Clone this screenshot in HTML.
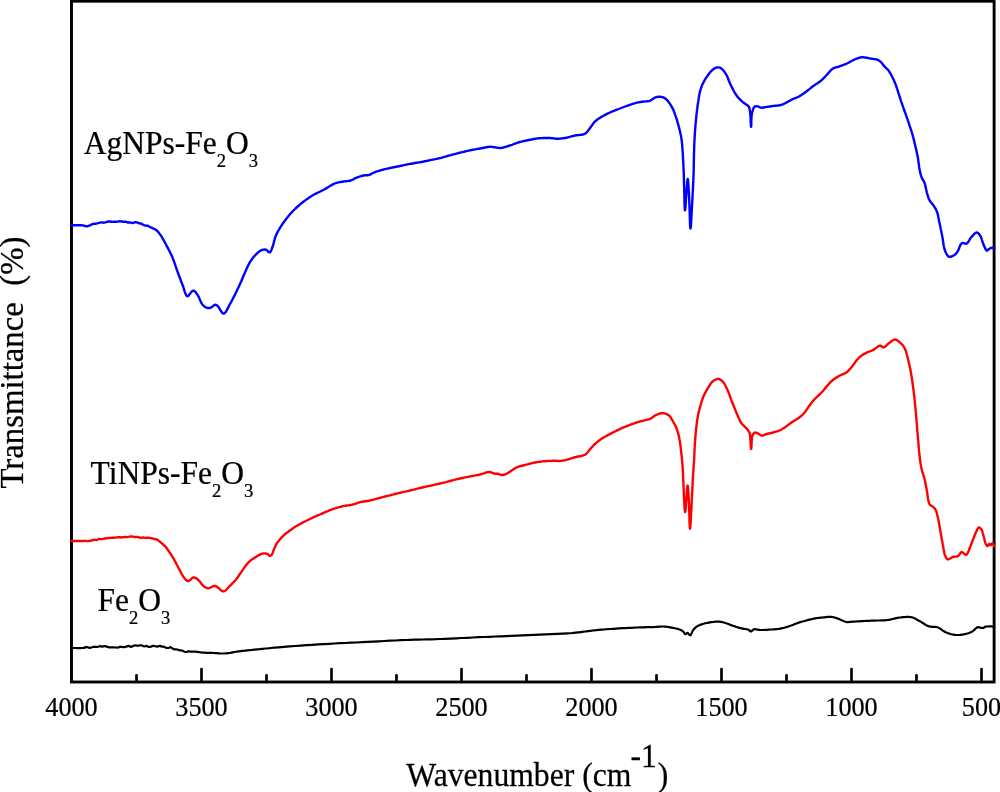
<!DOCTYPE html>
<html><head><meta charset="utf-8"><style>
html,body{margin:0;padding:0;background:#fff;}
svg{display:block;}
text{font-family:"Liberation Serif",serif;fill:#000;stroke:#000;stroke-width:0.25px;}
svg{will-change:transform;}
</style></head><body>
<svg width="1000" height="792" viewBox="0 0 1000 792">
<rect x="0" y="0" width="1000" height="792" fill="#fff"/>

<g stroke="#000" stroke-width="2.9" fill="none">
<rect x="71.5" y="1.2" width="922.6" height="680.8"/>
</g>
<g stroke="#000" stroke-width="2.7" fill="none" stroke-linecap="round">
<line x1="136.5" y1="681" x2="136.5" y2="675.3"/>
<line x1="201.5" y1="681" x2="201.5" y2="669.1"/>
<line x1="266.5" y1="681" x2="266.5" y2="675.3"/>
<line x1="331.5" y1="681" x2="331.5" y2="669.1"/>
<line x1="396.5" y1="681" x2="396.5" y2="675.3"/>
<line x1="461.5" y1="681" x2="461.5" y2="669.1"/>
<line x1="526.5" y1="681" x2="526.5" y2="675.3"/>
<line x1="591.5" y1="681" x2="591.5" y2="669.1"/>
<line x1="656.5" y1="681" x2="656.5" y2="675.3"/>
<line x1="721.5" y1="681" x2="721.5" y2="669.1"/>
<line x1="786.5" y1="681" x2="786.5" y2="675.3"/>
<line x1="851.5" y1="681" x2="851.5" y2="669.1"/>
<line x1="916.5" y1="681" x2="916.5" y2="675.3"/>
<line x1="981.5" y1="681" x2="981.5" y2="669.1"/>
</g>
<g fill="none" stroke-linejoin="round" stroke-linecap="round">
<path d="M71.5,225.2 L72.9,225.2 L74.3,225.2 L75.7,225.2 L77.2,225.3 L78.6,225.3 L79.9,225.3 L81.2,225.3 L82.4,225.4 L83.2,225.5 L83.9,225.6 L84.7,226.0 L85.4,226.1 L86.0,226.2 L86.7,226.2 L87.3,226.2 L88.0,226.1 L88.6,225.9 L89.2,225.7 L89.8,225.4 L90.4,225.1 L90.9,224.8 L91.5,224.5 L92.2,224.3 L92.8,224.0 L93.6,223.9 L94.5,223.8 L95.4,223.7 L96.3,223.6 L97.2,223.4 L98.1,223.1 L99.1,222.8 L100.0,222.6 L101.1,222.4 L102.1,222.4 L103.2,222.7 L104.3,222.6 L105.4,222.3 L106.5,222.0 L107.7,221.7 L108.8,221.5 L110.0,221.5 L111.2,221.7 L112.5,221.9 L113.8,221.8 L115.0,221.8 L116.2,221.7 L117.4,221.6 L118.4,221.5 L119.1,221.3 L119.7,221.3 L120.3,221.4 L120.9,221.4 L121.5,221.5 L122.0,221.5 L122.6,221.6 L123.2,221.7 L123.8,221.8 L124.4,221.7 L125.0,221.7 L125.6,221.7 L126.2,221.9 L126.8,222.1 L127.4,222.3 L128.0,222.6 L128.7,222.5 L129.4,222.5 L130.1,222.5 L130.9,222.7 L131.6,222.9 L132.3,223.1 L133.0,223.0 L133.6,222.7 L134.0,222.5 L134.5,222.3 L134.9,222.2 L135.3,222.2 L135.6,222.2 L136.0,222.2 L136.4,222.3 L136.8,222.4 L137.2,222.5 L137.6,222.6 L138.0,222.8 L138.4,223.0 L138.7,223.2 L139.1,223.3 L139.6,223.4 L140.0,223.5 L140.6,223.5 L141.3,223.6 L141.9,224.0 L142.6,224.4 L143.3,224.8 L144.0,225.1 L144.7,225.3 L145.4,225.5 L146.1,225.6 L146.7,225.6 L147.4,225.7 L148.1,225.8 L148.7,226.3 L149.4,226.7 L150.0,227.0 L150.7,227.3 L151.4,227.6 L152.1,227.9 L152.8,228.2 L153.5,228.6 L154.2,228.9 L154.9,229.3 L155.5,229.6 L156.1,230.0 L156.5,230.3 L156.9,230.6 L157.2,231.0 L157.6,231.3 L157.9,231.7 L158.2,232.0 L158.5,232.4 L158.8,232.8 L159.1,233.2 L159.5,233.6 L159.8,234.1 L160.1,234.5 L160.5,234.9 L160.8,235.4 L161.1,235.9 L161.5,236.5 L162.1,237.5 L162.7,238.6 L163.4,239.7 L164.1,241.0 L164.8,242.2 L165.5,243.5 L166.1,244.8 L166.8,246.1 L167.5,247.4 L168.2,248.7 L168.9,250.0 L169.6,251.3 L170.2,252.6 L170.9,254.0 L171.6,255.4 L172.2,256.8 L172.9,258.6 L173.6,260.4 L174.3,262.3 L175.0,264.2 L175.6,266.2 L176.3,268.1 L176.9,270.0 L177.6,271.9 L178.3,273.7 L178.9,275.5 L179.6,277.3 L180.3,279.0 L180.9,280.8 L181.6,282.5 L182.2,284.2 L182.9,285.8 L183.4,287.3 L183.9,288.9 L184.4,290.6 L184.9,292.2 L185.5,293.7 L186.0,294.9 L186.6,295.8 L187.3,296.2 L188.0,296.1 L188.7,295.5 L189.4,294.6 L190.2,293.5 L191.0,292.4 L191.8,291.5 L192.6,290.8 L193.3,290.6 L193.9,290.7 L194.5,291.1 L195.1,291.6 L195.7,292.3 L196.3,293.1 L196.8,293.9 L197.4,294.7 L197.9,295.5 L198.5,296.5 L199.1,297.6 L199.6,298.9 L200.1,300.1 L200.6,301.4 L201.2,302.5 L201.8,303.6 L202.4,304.5 L202.9,305.1 L203.5,305.7 L204.0,306.2 L204.6,306.6 L205.2,307.1 L205.8,307.4 L206.4,307.7 L207.0,307.9 L207.5,308.0 L207.9,308.1 L208.4,308.1 L208.9,308.0 L209.4,308.0 L209.8,307.9 L210.3,307.7 L210.8,307.6 L211.4,307.3 L212.0,307.0 L212.5,306.5 L213.1,306.0 L213.7,305.6 L214.3,305.2 L214.8,304.9 L215.3,304.8 L215.6,304.8 L215.9,304.9 L216.2,305.0 L216.5,305.1 L216.7,305.3 L217.0,305.5 L217.3,305.7 L217.6,306.0 L218.3,306.7 L219.0,307.8 L219.7,309.0 L220.5,310.3 L221.3,311.6 L222.1,312.6 L222.8,313.4 L223.6,313.6 L224.4,313.3 L225.2,312.5 L226.1,311.4 L226.9,310.0 L227.7,308.4 L228.5,306.9 L229.3,305.3 L230.0,304.0 L230.7,302.8 L231.3,301.7 L232.0,300.5 L232.6,299.3 L233.2,298.1 L233.8,296.9 L234.4,295.7 L235.0,294.5 L235.6,293.2 L236.3,291.9 L236.9,290.6 L237.5,289.3 L238.1,288.0 L238.8,286.7 L239.4,285.3 L240.0,284.0 L240.6,282.6 L241.3,281.2 L241.9,279.7 L242.5,278.2 L243.1,276.8 L243.7,275.3 L244.4,273.9 L245.0,272.5 L245.6,271.1 L246.2,269.8 L246.8,268.4 L247.4,267.0 L248.0,265.7 L248.7,264.4 L249.3,263.2 L250.0,262.0 L250.6,261.1 L251.2,260.2 L251.8,259.4 L252.4,258.5 L253.0,257.8 L253.6,257.0 L254.3,256.2 L255.0,255.5 L255.7,254.7 L256.5,254.0 L257.3,253.2 L258.1,252.4 L259.0,251.7 L259.8,251.1 L260.6,250.6 L261.4,250.2 L262.0,250.0 L262.6,249.8 L263.1,249.7 L263.7,249.6 L264.3,249.5 L264.8,249.5 L265.4,249.6 L265.9,249.7 L266.4,249.9 L266.9,250.3 L267.4,250.8 L267.9,251.3 L268.4,251.8 L268.9,252.1 L269.3,252.4 L269.7,252.4 L270.2,252.1 L270.6,251.7 L271.0,251.0 L271.3,250.2 L271.7,249.2 L272.0,248.3 L272.4,247.3 L272.7,246.4 L273.1,245.2 L273.5,243.9 L273.8,242.6 L274.2,241.2 L274.5,239.8 L274.9,238.4 L275.3,237.1 L275.8,235.8 L276.3,234.7 L276.8,233.6 L277.3,232.6 L277.8,231.6 L278.4,230.5 L279.0,229.5 L279.6,228.5 L280.3,227.4 L281.1,226.1 L282.0,224.8 L282.9,223.4 L283.9,222.0 L284.9,220.7 L285.9,219.3 L286.9,218.0 L287.9,216.8 L288.8,215.7 L289.7,214.6 L290.7,213.5 L291.6,212.5 L292.5,211.5 L293.5,210.5 L294.5,209.5 L295.5,208.5 L296.6,207.5 L297.7,206.5 L298.8,205.5 L299.9,204.6 L301.0,203.6 L302.2,202.7 L303.3,201.8 L304.5,200.9 L305.6,200.1 L306.7,199.3 L307.9,198.5 L309.0,197.7 L310.1,196.9 L311.3,196.2 L312.4,195.5 L313.6,194.8 L314.7,194.2 L315.8,193.6 L316.9,193.1 L318.1,192.5 L319.2,192.0 L320.3,191.5 L321.5,190.9 L322.7,190.3 L324.2,189.5 L325.7,188.6 L327.2,187.7 L328.8,186.7 L330.4,185.8 L331.9,184.9 L333.4,184.1 L334.8,183.5 L335.8,183.1 L336.8,182.8 L337.7,182.6 L338.7,182.4 L339.6,182.2 L340.5,182.0 L341.4,181.9 L342.4,181.7 L343.4,181.5 L344.5,181.4 L345.6,181.3 L346.7,181.2 L347.8,181.1 L348.9,180.9 L349.9,180.7 L350.8,180.5 L351.5,180.2 L352.2,179.9 L352.8,179.6 L353.4,179.3 L354.0,178.9 L354.7,178.5 L355.3,178.2 L356.0,177.9 L356.9,177.6 L357.8,177.2 L358.8,176.9 L359.8,176.5 L360.8,176.2 L361.7,175.9 L362.7,175.7 L363.6,175.5 L364.3,175.4 L365.0,175.3 L365.7,175.3 L366.4,175.3 L367.1,175.3 L367.7,175.2 L368.4,175.1 L369.0,175.0 L369.5,174.8 L370.0,174.6 L370.5,174.4 L371.0,174.1 L371.4,173.8 L371.9,173.5 L372.4,173.3 L373.0,173.0 L373.8,172.7 L374.6,172.4 L375.4,172.0 L376.3,171.7 L377.2,171.4 L378.1,171.1 L379.0,170.8 L380.0,170.5 L381.2,170.2 L382.4,169.8 L383.6,169.5 L384.9,169.2 L386.2,168.9 L387.5,168.6 L388.7,168.3 L390.0,168.0 L391.2,167.7 L392.5,167.5 L393.7,167.2 L395.0,167.0 L396.2,166.7 L397.5,166.5 L398.8,166.3 L400.0,166.0 L401.3,165.7 L402.5,165.5 L403.7,165.2 L405.0,164.9 L406.2,164.7 L407.5,164.4 L408.7,164.1 L410.0,163.9 L411.2,163.7 L412.5,163.5 L413.7,163.2 L415.0,163.0 L416.3,162.8 L417.5,162.6 L418.8,162.4 L420.0,162.2 L421.3,162.0 L422.5,161.7 L423.8,161.5 L425.0,161.2 L426.3,161.0 L427.5,160.7 L428.8,160.5 L430.0,160.2 L431.3,159.9 L432.5,159.7 L433.8,159.4 L435.0,159.2 L436.3,158.9 L437.5,158.7 L438.8,158.4 L440.0,158.1 L441.3,157.8 L442.5,157.4 L443.8,157.1 L445.0,156.7 L446.3,156.4 L447.5,156.0 L448.7,155.6 L450.0,155.3 L451.2,155.0 L452.5,154.6 L453.7,154.3 L455.0,154.0 L456.2,153.7 L457.5,153.3 L458.7,153.0 L460.0,152.7 L461.2,152.4 L462.5,152.1 L463.7,151.8 L465.0,151.5 L466.2,151.1 L467.5,150.9 L468.7,150.6 L470.0,150.3 L471.2,150.0 L472.5,149.8 L473.7,149.6 L475.0,149.4 L476.2,149.1 L477.5,148.9 L478.7,148.7 L480.0,148.5 L481.3,148.3 L482.6,148.0 L483.9,147.7 L485.2,147.5 L486.4,147.2 L487.7,147.0 L488.9,146.9 L490.0,146.8 L490.8,146.8 L491.6,146.9 L492.4,146.9 L493.1,147.1 L493.9,147.2 L494.6,147.3 L495.3,147.4 L496.0,147.5 L496.7,147.6 L497.3,147.7 L497.9,147.8 L498.6,147.9 L499.2,147.9 L499.8,148.0 L500.4,148.0 L501.0,148.0 L501.5,147.9 L502.0,147.9 L502.5,147.8 L503.0,147.6 L503.4,147.5 L503.9,147.3 L504.5,147.2 L505.0,147.0 L505.8,146.8 L506.6,146.5 L507.5,146.3 L508.4,146.0 L509.3,145.7 L510.2,145.4 L511.1,145.1 L512.0,144.8 L512.8,144.5 L513.5,144.2 L514.3,143.9 L515.0,143.6 L515.7,143.3 L516.5,143.0 L517.2,142.8 L518.0,142.5 L518.8,142.3 L519.7,142.0 L520.5,141.8 L521.4,141.6 L522.3,141.4 L523.1,141.2 L524.1,141.0 L525.0,140.8 L526.2,140.5 L527.5,140.3 L528.8,140.0 L530.1,139.7 L531.4,139.5 L532.7,139.2 L533.9,139.0 L535.0,138.8 L535.7,138.7 L536.3,138.6 L536.9,138.5 L537.5,138.4 L538.1,138.4 L538.7,138.3 L539.3,138.3 L540.0,138.2 L541.1,138.1 L542.3,138.1 L543.6,138.0 L544.9,138.0 L546.2,138.0 L547.5,138.0 L548.8,138.0 L550.0,138.0 L550.9,138.1 L551.8,138.2 L552.7,138.3 L553.5,138.4 L554.4,138.5 L555.2,138.6 L556.1,138.7 L557.0,138.7 L558.0,138.7 L558.9,138.7 L559.9,138.6 L560.9,138.5 L561.9,138.4 L562.9,138.3 L564.0,138.2 L565.0,138.0 L566.2,137.8 L567.5,137.5 L568.7,137.1 L570.0,136.8 L571.3,136.4 L572.5,136.1 L573.8,135.8 L575.0,135.5 L576.1,135.3 L577.2,135.2 L578.2,135.1 L579.3,135.0 L580.3,134.9 L581.3,134.8 L582.2,134.7 L583.0,134.5 L583.5,134.4 L583.9,134.2 L584.3,134.1 L584.6,133.9 L585.0,133.7 L585.3,133.5 L585.6,133.3 L586.0,133.0 L586.5,132.5 L587.0,132.0 L587.5,131.4 L588.0,130.8 L588.5,130.1 L589.0,129.4 L589.5,128.7 L590.0,128.0 L590.6,127.2 L591.2,126.4 L591.8,125.5 L592.4,124.7 L593.0,123.8 L593.7,123.0 L594.3,122.2 L595.0,121.5 L595.6,121.0 L596.2,120.5 L596.7,120.0 L597.3,119.5 L597.9,119.1 L598.6,118.7 L599.3,118.3 L600.0,117.8 L601.1,117.1 L602.2,116.5 L603.5,115.8 L604.8,115.1 L606.1,114.4 L607.4,113.7 L608.7,113.1 L610.0,112.5 L611.2,111.9 L612.5,111.4 L613.7,110.9 L615.0,110.4 L616.2,109.9 L617.5,109.5 L618.7,109.0 L620.0,108.5 L621.3,108.0 L622.6,107.5 L623.9,107.0 L625.2,106.5 L626.5,106.0 L627.8,105.6 L628.9,105.2 L630.0,104.8 L630.6,104.6 L631.2,104.4 L631.8,104.2 L632.3,104.0 L632.8,103.8 L633.3,103.6 L633.9,103.5 L634.5,103.3 L635.3,103.1 L636.1,102.9 L636.9,102.7 L637.8,102.5 L638.7,102.3 L639.6,102.1 L640.5,102.0 L641.4,101.8 L642.4,101.7 L643.5,101.6 L644.6,101.5 L645.6,101.4 L646.7,101.4 L647.8,101.2 L648.8,101.1 L649.7,100.8 L650.4,100.5 L651.1,100.1 L651.8,99.7 L652.4,99.2 L653.1,98.7 L653.7,98.3 L654.3,97.9 L655.0,97.6 L655.6,97.4 L656.3,97.2 L657.0,97.0 L657.7,96.9 L658.3,96.8 L659.0,96.8 L659.7,96.8 L660.3,96.8 L660.9,96.9 L661.5,97.0 L662.1,97.1 L662.6,97.2 L663.2,97.4 L663.7,97.7 L664.3,97.9 L664.8,98.2 L665.3,98.6 L665.8,99.0 L666.3,99.4 L666.8,99.9 L667.3,100.4 L667.7,100.9 L668.2,101.4 L668.6,102.0 L669.1,102.7 L669.6,103.4 L670.1,104.1 L670.6,104.8 L671.1,105.6 L671.5,106.4 L672.0,107.2 L672.4,108.0 L672.8,108.9 L673.3,109.8 L673.7,110.7 L674.0,111.7 L674.4,112.6 L674.8,113.6 L675.1,114.6 L675.5,115.6 L675.9,116.8 L676.3,117.9 L676.7,119.1 L677.1,120.4 L677.4,121.6 L677.8,122.9 L678.1,124.2 L678.5,125.5 L678.9,127.1 L679.3,128.7 L679.7,130.3 L680.1,131.9 L680.5,133.7 L680.9,135.4 L681.2,137.2 L681.5,139.1 L681.8,141.6 L682.1,144.1 L682.3,146.8 L682.5,149.5 L682.7,152.3 L682.9,155.2 L683.0,158.1 L683.2,161.0 L683.4,164.4 L683.5,167.9 L683.7,171.5 L683.8,175.2 L683.9,178.8 L684.0,182.4 L684.1,185.9 L684.2,189.3 L684.3,192.4 L684.4,195.8 L684.4,199.2 L684.5,202.6 L684.6,205.6 L684.7,208.1 L684.8,209.7 L685.0,210.3 L685.3,209.0 L685.6,205.4 L685.9,200.4 L686.3,194.7 L686.7,188.9 L687.1,183.9 L687.4,180.3 L687.7,179.0 L687.9,179.4 L688.1,180.6 L688.2,182.5 L688.4,184.8 L688.6,187.3 L688.7,190.1 L688.9,192.8 L689.0,195.3 L689.2,199.3 L689.4,204.3 L689.6,209.8 L689.8,215.3 L689.9,220.4 L690.1,224.6 L690.3,227.4 L690.5,228.5 L690.7,227.8 L690.9,225.9 L691.1,223.0 L691.3,219.5 L691.5,215.5 L691.7,211.5 L691.9,207.6 L692.1,204.2 L692.3,201.0 L692.5,197.8 L692.6,194.6 L692.8,191.3 L693.0,188.0 L693.1,184.7 L693.3,181.2 L693.4,177.7 L693.6,173.2 L693.7,168.4 L693.8,163.5 L693.9,158.5 L694.0,153.5 L694.2,148.7 L694.3,144.1 L694.5,139.8 L694.7,136.8 L694.8,134.0 L695.0,131.3 L695.2,128.6 L695.4,126.1 L695.6,123.6 L695.9,121.1 L696.1,118.6 L696.3,116.5 L696.5,114.4 L696.8,112.3 L697.0,110.2 L697.3,108.2 L697.5,106.3 L697.8,104.3 L698.1,102.4 L698.4,100.7 L698.6,98.9 L698.9,97.2 L699.2,95.5 L699.5,93.9 L699.8,92.3 L700.2,90.8 L700.6,89.3 L701.0,88.2 L701.4,87.1 L701.8,86.0 L702.2,85.0 L702.7,84.0 L703.2,83.0 L703.6,82.1 L704.1,81.2 L704.5,80.5 L704.8,79.8 L705.2,79.2 L705.6,78.6 L706.0,78.0 L706.4,77.4 L706.8,76.8 L707.2,76.2 L707.7,75.5 L708.1,74.9 L708.6,74.2 L709.1,73.5 L709.6,72.9 L710.1,72.3 L710.6,71.7 L711.2,71.1 L711.8,70.6 L712.4,70.0 L713.0,69.5 L713.7,69.0 L714.3,68.5 L715.0,68.1 L715.7,67.8 L716.3,67.6 L716.8,67.5 L717.3,67.4 L717.8,67.4 L718.3,67.4 L718.8,67.4 L719.3,67.5 L719.8,67.7 L720.3,67.9 L721.0,68.3 L721.6,68.7 L722.3,69.3 L722.9,70.0 L723.6,70.7 L724.2,71.5 L724.8,72.3 L725.4,73.1 L726.1,74.3 L726.8,75.5 L727.4,76.9 L728.0,78.4 L728.5,79.8 L729.1,81.3 L729.7,82.8 L730.4,84.2 L731.1,85.6 L731.8,87.1 L732.6,88.6 L733.3,90.0 L734.1,91.5 L734.9,92.9 L735.7,94.2 L736.5,95.4 L737.2,96.3 L737.9,97.2 L738.7,98.1 L739.4,98.9 L740.2,99.7 L740.9,100.4 L741.7,101.2 L742.5,101.9 L743.3,102.5 L744.1,103.1 L745.0,103.6 L745.8,104.2 L746.6,104.7 L747.4,105.2 L748.1,105.8 L748.6,106.5 L749.0,107.1 L749.3,107.8 L749.5,108.5 L749.6,109.2 L749.8,110.0 L749.9,110.8 L750.0,111.6 L750.1,112.5 L750.3,114.2 L750.5,116.3 L750.6,118.6 L750.7,121.0 L750.8,123.2 L750.9,125.0 L751.0,126.2 L751.1,126.7 L751.2,126.2 L751.3,125.0 L751.3,123.2 L751.3,121.0 L751.4,118.6 L751.6,116.3 L751.8,114.2 L752.1,112.5 L752.4,111.5 L752.7,110.6 L753.0,109.6 L753.3,108.7 L753.7,107.9 L754.1,107.2 L754.6,106.7 L755.2,106.3 L755.9,106.1 L756.6,106.2 L757.5,106.4 L758.4,106.7 L759.3,107.0 L760.1,107.4 L761.0,107.6 L761.7,107.7 L762.2,107.7 L762.6,107.7 L763.0,107.6 L763.3,107.5 L763.7,107.5 L764.1,107.4 L764.5,107.3 L765.0,107.2 L765.8,107.1 L766.8,106.9 L767.7,106.8 L768.8,106.6 L769.8,106.5 L770.9,106.3 L772.0,106.1 L773.0,106.0 L774.0,105.9 L775.0,105.8 L776.1,105.7 L777.1,105.6 L778.1,105.5 L779.1,105.4 L780.1,105.2 L781.0,105.0 L781.8,104.7 L782.6,104.4 L783.3,104.1 L784.1,103.7 L784.8,103.4 L785.5,103.0 L786.3,102.6 L787.0,102.2 L787.8,101.8 L788.5,101.4 L789.2,101.0 L790.0,100.6 L790.7,100.2 L791.5,99.8 L792.2,99.4 L793.0,99.0 L793.7,98.7 L794.5,98.4 L795.2,98.1 L796.0,97.8 L796.7,97.5 L797.5,97.2 L798.2,96.9 L799.0,96.5 L800.0,95.9 L801.0,95.3 L802.0,94.6 L803.0,93.9 L804.0,93.2 L805.0,92.5 L806.0,91.7 L807.0,91.0 L807.9,90.3 L808.8,89.6 L809.7,88.9 L810.6,88.2 L811.4,87.5 L812.3,86.8 L813.1,86.1 L814.0,85.5 L814.8,85.0 L815.5,84.5 L816.3,84.0 L817.1,83.5 L817.8,83.0 L818.6,82.5 L819.3,82.0 L820.0,81.5 L820.7,81.0 L821.3,80.4 L821.9,79.9 L822.5,79.3 L823.1,78.7 L823.7,78.1 L824.3,77.5 L825.0,76.8 L825.9,75.8 L826.9,74.7 L827.9,73.6 L828.9,72.4 L829.9,71.3 L831.0,70.2 L832.0,69.2 L833.0,68.5 L833.7,68.1 L834.5,67.8 L835.2,67.5 L835.9,67.3 L836.7,67.1 L837.4,67.0 L838.2,66.8 L839.0,66.5 L839.9,66.2 L840.9,65.8 L841.9,65.5 L842.9,65.1 L844.0,64.7 L845.0,64.3 L846.0,63.9 L847.0,63.5 L848.0,63.0 L849.0,62.5 L850.0,61.9 L851.0,61.3 L852.0,60.8 L853.0,60.2 L854.0,59.7 L855.0,59.3 L855.9,58.9 L856.7,58.6 L857.6,58.3 L858.5,58.0 L859.3,57.8 L860.2,57.5 L861.1,57.4 L862.0,57.3 L863.1,57.3 L864.2,57.4 L865.3,57.5 L866.4,57.7 L867.6,57.9 L868.7,58.2 L869.8,58.4 L870.9,58.6 L871.8,58.7 L872.8,58.9 L873.8,59.0 L874.7,59.1 L875.6,59.3 L876.5,59.5 L877.3,59.7 L878.0,60.0 L878.5,60.3 L879.0,60.6 L879.5,60.9 L879.9,61.2 L880.3,61.6 L880.7,61.9 L881.1,62.3 L881.5,62.7 L881.9,63.1 L882.2,63.5 L882.5,63.9 L882.8,64.4 L883.2,64.8 L883.5,65.3 L883.8,65.7 L884.2,66.2 L884.7,66.7 L885.2,67.2 L885.8,67.7 L886.3,68.2 L886.9,68.8 L887.5,69.3 L888.1,69.9 L888.6,70.6 L889.3,71.6 L890.0,72.8 L890.7,74.0 L891.4,75.3 L892.1,76.7 L892.8,78.0 L893.4,79.2 L893.9,80.4 L894.3,81.3 L894.6,82.1 L895.0,82.9 L895.3,83.6 L895.6,84.4 L895.9,85.2 L896.2,86.1 L896.5,87.0 L897.0,88.4 L897.5,89.9 L898.0,91.6 L898.5,93.2 L899.1,94.9 L899.6,96.7 L900.2,98.4 L900.7,100.0 L901.2,101.6 L901.8,103.2 L902.3,104.7 L902.9,106.3 L903.4,107.9 L904.0,109.5 L904.5,111.0 L905.1,112.6 L905.7,114.2 L906.2,115.8 L906.8,117.4 L907.4,119.0 L907.9,120.6 L908.5,122.2 L909.0,123.8 L909.5,125.3 L909.9,126.6 L910.4,127.9 L910.8,129.2 L911.2,130.4 L911.6,131.7 L912.0,132.9 L912.3,134.1 L912.7,135.4 L913.0,136.7 L913.4,137.9 L913.7,139.2 L914.0,140.4 L914.3,141.7 L914.6,142.9 L914.9,144.2 L915.2,145.5 L915.5,146.9 L915.9,148.3 L916.2,149.7 L916.5,151.1 L916.8,152.5 L917.1,153.9 L917.4,155.3 L917.7,156.8 L918.0,158.4 L918.2,160.0 L918.4,161.6 L918.7,163.3 L918.9,164.9 L919.1,166.5 L919.3,168.0 L919.6,169.4 L919.8,170.5 L920.0,171.5 L920.2,172.4 L920.4,173.4 L920.7,174.3 L920.9,175.2 L921.2,176.1 L921.5,177.0 L921.8,177.8 L922.2,178.6 L922.7,179.4 L923.1,180.2 L923.6,180.9 L924.0,181.7 L924.4,182.5 L924.7,183.3 L925.0,184.1 L925.2,185.0 L925.4,185.8 L925.5,186.6 L925.7,187.5 L925.9,188.4 L926.1,189.3 L926.3,190.2 L926.6,191.4 L926.9,192.6 L927.3,193.9 L927.6,195.2 L928.0,196.5 L928.4,197.7 L928.9,198.9 L929.4,200.0 L929.9,200.8 L930.4,201.5 L930.9,202.2 L931.5,202.9 L932.0,203.6 L932.6,204.2 L933.1,204.9 L933.6,205.6 L934.1,206.3 L934.5,207.1 L935.0,207.8 L935.4,208.5 L935.9,209.3 L936.3,210.1 L936.6,210.9 L937.0,211.8 L937.4,212.9 L937.7,214.1 L938.0,215.3 L938.3,216.6 L938.5,217.9 L938.8,219.3 L939.0,220.6 L939.3,222.0 L939.7,223.6 L940.0,225.3 L940.4,227.0 L940.7,228.7 L941.1,230.4 L941.5,232.2 L941.8,233.9 L942.2,235.7 L942.5,237.6 L942.8,239.5 L943.1,241.5 L943.4,243.5 L943.7,245.4 L944.1,247.3 L944.5,249.0 L945.0,250.5 L945.4,251.5 L945.8,252.5 L946.3,253.5 L946.8,254.4 L947.3,255.2 L947.8,255.8 L948.4,256.4 L949.0,256.7 L949.6,256.8 L950.2,256.8 L950.9,256.7 L951.6,256.5 L952.2,256.2 L952.9,255.9 L953.5,255.5 L954.1,255.2 L954.6,254.9 L955.1,254.5 L955.5,254.1 L955.9,253.7 L956.3,253.2 L956.7,252.7 L957.1,252.2 L957.5,251.6 L958.1,250.7 L958.6,249.5 L959.1,248.2 L959.6,246.9 L960.1,245.7 L960.7,244.6 L961.3,243.7 L962.0,243.1 L962.5,242.9 L963.1,243.0 L963.7,243.1 L964.3,243.3 L964.9,243.5 L965.5,243.7 L966.1,243.7 L966.6,243.6 L967.2,243.2 L967.8,242.6 L968.3,241.8 L968.9,240.9 L969.4,240.0 L969.9,239.0 L970.5,238.2 L971.1,237.4 L971.8,236.7 L972.5,235.9 L973.2,235.0 L974.0,234.2 L974.7,233.5 L975.5,233.0 L976.2,232.6 L976.8,232.5 L977.3,232.6 L977.7,232.8 L978.2,233.1 L978.6,233.6 L979.0,234.0 L979.4,234.6 L979.8,235.1 L980.2,235.7 L980.7,236.6 L981.2,237.7 L981.6,238.8 L982.0,240.1 L982.4,241.3 L982.7,242.6 L983.2,243.7 L983.6,244.8 L984.0,245.7 L984.4,246.6 L984.8,247.5 L985.2,248.4 L985.6,249.2 L986.1,249.9 L986.5,250.4 L986.9,250.6 L987.2,250.6 L987.4,250.5 L987.7,250.2 L988.0,250.0 L988.3,249.7 L988.5,249.4 L988.8,249.1 L989.1,248.9 L989.4,248.7 L989.6,248.6 L989.9,248.4 L990.2,248.3 L990.4,248.2 L990.7,248.1 L991.0,248.0 L991.3,247.9 L991.6,247.8 L992.0,247.8 L992.4,247.8 L992.8,247.8 L993.1,247.8 L993.5,247.9 L993.9,247.9 L994.3,247.9" stroke="#0000ff" stroke-width="2.4"/>
<path d="M71.5,541.0 L72.6,541.0 L73.6,541.0 L74.7,541.0 L75.8,541.0 L76.8,541.0 L77.9,541.0 L78.9,541.0 L80.0,541.0 L81.0,541.0 L82.1,541.0 L83.1,541.0 L84.2,540.9 L85.2,540.9 L86.2,541.0 L87.1,541.1 L88.0,541.1 L88.6,541.1 L89.1,541.0 L89.6,541.0 L90.1,540.9 L90.6,540.8 L91.0,540.6 L91.5,540.5 L92.0,540.3 L92.5,540.1 L93.0,540.0 L93.4,540.0 L93.9,539.9 L94.4,539.9 L94.9,539.8 L95.4,539.9 L96.0,539.9 L96.9,540.0 L97.8,539.5 L98.8,539.0 L99.8,538.9 L100.9,539.1 L101.9,539.1 L103.0,538.9 L104.0,538.7 L105.0,538.5 L106.0,538.3 L107.0,538.2 L108.0,538.0 L109.0,538.0 L110.0,537.9 L111.0,537.9 L112.0,537.8 L113.0,537.7 L114.0,537.7 L115.0,537.6 L116.0,537.5 L116.9,537.4 L117.9,537.3 L119.0,537.2 L120.0,537.3 L121.2,537.5 L122.4,537.3 L123.6,537.1 L124.9,537.0 L126.1,536.9 L127.3,537.1 L128.5,536.9 L129.6,536.6 L130.5,536.5 L131.3,536.5 L132.2,536.5 L133.0,536.7 L133.8,536.9 L134.6,537.1 L135.3,537.0 L136.0,536.9 L136.4,536.9 L136.9,536.9 L137.3,537.0 L137.6,537.1 L138.0,537.2 L138.4,537.3 L138.8,537.3 L139.2,537.5 L139.7,537.6 L140.3,537.7 L140.9,537.7 L141.5,537.7 L142.1,537.6 L142.7,537.5 L143.4,537.5 L144.0,537.6 L144.8,537.8 L145.6,537.9 L146.4,537.8 L147.2,537.8 L148.1,537.8 L148.9,537.8 L149.7,537.9 L150.4,538.0 L150.9,538.1 L151.5,538.2 L152.0,538.4 L152.5,538.5 L152.9,538.6 L153.4,538.7 L153.9,538.8 L154.4,539.0 L154.9,539.1 L155.4,539.2 L155.9,539.3 L156.4,539.4 L157.0,539.6 L157.5,539.8 L157.9,540.0 L158.4,540.6 L158.8,540.9 L159.2,541.2 L159.6,541.5 L160.0,541.8 L160.4,542.1 L160.8,542.5 L161.2,542.8 L161.6,543.2 L162.1,543.6 L162.6,544.0 L163.1,544.4 L163.6,544.9 L164.1,545.3 L164.6,545.8 L165.1,546.3 L165.6,546.8 L166.1,547.4 L166.6,548.1 L167.1,548.7 L167.6,549.4 L168.1,550.1 L168.6,550.9 L169.1,551.6 L169.6,552.4 L170.2,553.3 L170.8,554.2 L171.4,555.2 L172.0,556.2 L172.6,557.2 L173.2,558.2 L173.8,559.2 L174.4,560.2 L175.0,561.3 L175.6,562.4 L176.2,563.5 L176.8,564.7 L177.4,565.8 L178.0,567.0 L178.6,568.1 L179.2,569.2 L179.8,570.3 L180.4,571.4 L180.9,572.6 L181.5,573.7 L182.1,574.8 L182.7,575.8 L183.4,576.8 L184.0,577.6 L184.5,578.2 L185.0,578.8 L185.5,579.3 L186.0,579.9 L186.6,580.3 L187.1,580.7 L187.6,580.9 L188.2,581.0 L188.8,580.9 L189.5,580.5 L190.2,579.9 L190.9,579.3 L191.6,578.6 L192.2,578.0 L192.9,577.6 L193.6,577.4 L194.2,577.4 L194.8,577.6 L195.4,577.9 L196.1,578.2 L196.7,578.6 L197.2,579.1 L197.8,579.5 L198.4,580.0 L199.0,580.6 L199.6,581.3 L200.2,582.1 L200.8,582.9 L201.4,583.7 L202.0,584.5 L202.6,585.2 L203.2,585.8 L203.8,586.2 L204.3,586.7 L204.9,587.0 L205.5,587.4 L206.1,587.7 L206.7,587.9 L207.3,588.1 L208.0,588.2 L208.8,588.1 L209.7,587.9 L210.6,587.5 L211.5,587.0 L212.4,586.6 L213.4,586.2 L214.3,586.0 L215.2,586.0 L216.3,586.4 L217.3,587.0 L218.4,587.9 L219.5,588.9 L220.6,589.9 L221.6,590.7 L222.6,591.2 L223.6,591.4 L224.4,591.2 L225.2,590.7 L226.0,590.1 L226.7,589.3 L227.4,588.5 L228.1,587.6 L228.9,586.8 L229.6,586.0 L230.4,585.3 L231.1,584.6 L231.9,583.9 L232.6,583.1 L233.4,582.4 L234.1,581.6 L234.9,580.8 L235.6,580.0 L236.4,579.0 L237.1,578.0 L237.9,577.0 L238.6,575.9 L239.3,574.9 L240.1,573.8 L240.8,572.7 L241.6,571.6 L242.5,570.4 L243.3,569.1 L244.2,567.8 L245.1,566.6 L246.0,565.3 L246.9,564.1 L247.9,563.0 L248.8,562.0 L249.6,561.3 L250.3,560.6 L251.1,560.1 L251.9,559.5 L252.7,559.0 L253.5,558.5 L254.2,558.0 L255.0,557.5 L255.6,557.1 L256.3,556.7 L256.9,556.3 L257.5,555.9 L258.1,555.5 L258.7,555.2 L259.3,554.9 L259.9,554.6 L260.4,554.4 L260.9,554.2 L261.5,554.0 L262.0,553.8 L262.5,553.7 L263.0,553.5 L263.5,553.4 L264.0,553.4 L264.4,553.4 L264.9,553.4 L265.3,553.5 L265.7,553.5 L266.1,553.6 L266.5,553.7 L266.9,553.9 L267.3,554.0 L267.6,554.2 L268.0,554.4 L268.3,554.7 L268.6,555.0 L268.9,555.3 L269.2,555.6 L269.5,555.7 L269.8,555.8 L270.1,555.8 L270.3,555.7 L270.6,555.6 L270.8,555.5 L271.1,555.3 L271.3,555.1 L271.6,554.8 L271.8,554.6 L272.1,554.1 L272.4,553.6 L272.7,552.9 L272.9,552.2 L273.1,551.5 L273.4,550.7 L273.6,550.0 L273.9,549.3 L274.2,548.7 L274.5,548.0 L274.7,547.4 L275.0,546.8 L275.3,546.1 L275.6,545.5 L276.0,544.9 L276.3,544.3 L276.7,543.7 L277.0,543.1 L277.4,542.6 L277.9,542.0 L278.3,541.5 L278.7,540.9 L279.2,540.4 L279.6,539.8 L280.1,539.2 L280.6,538.7 L281.0,538.1 L281.5,537.5 L282.1,537.0 L282.6,536.4 L283.1,535.8 L283.7,535.3 L284.4,534.7 L285.0,534.1 L285.8,533.6 L286.5,533.0 L287.2,532.5 L288.0,531.9 L288.7,531.4 L289.5,530.8 L290.3,530.2 L291.1,529.7 L291.9,529.1 L292.7,528.5 L293.5,528.0 L294.3,527.4 L295.1,526.8 L296.0,526.3 L297.0,525.7 L298.0,525.1 L299.0,524.6 L300.1,524.0 L301.1,523.4 L302.2,522.9 L303.3,522.3 L304.3,521.8 L305.3,521.3 L306.4,520.7 L307.4,520.2 L308.4,519.7 L309.4,519.2 L310.5,518.7 L311.5,518.2 L312.5,517.7 L313.4,517.3 L314.3,516.9 L315.2,516.5 L316.1,516.1 L317.0,515.7 L318.0,515.3 L319.0,514.9 L320.0,514.5 L321.5,513.9 L323.0,513.2 L324.7,512.4 L326.4,511.7 L328.1,511.0 L329.8,510.2 L331.4,509.6 L333.0,509.0 L334.3,508.6 L335.6,508.2 L336.8,507.8 L338.1,507.4 L339.3,507.1 L340.5,506.8 L341.8,506.5 L343.0,506.2 L344.3,505.9 L345.5,505.7 L346.8,505.5 L348.1,505.4 L349.4,505.2 L350.6,505.0 L351.8,504.8 L353.0,504.5 L353.9,504.2 L354.8,504.0 L355.7,503.7 L356.5,503.4 L357.3,503.0 L358.2,502.7 L359.1,502.5 L360.0,502.2 L361.2,501.9 L362.4,501.7 L363.6,501.5 L364.9,501.3 L366.2,501.2 L367.5,501.0 L368.7,500.8 L370.0,500.5 L371.3,500.2 L372.5,499.9 L373.8,499.6 L375.0,499.2 L376.3,498.8 L377.5,498.5 L378.7,498.1 L380.0,497.8 L381.2,497.5 L382.5,497.2 L383.7,496.8 L385.0,496.5 L386.2,496.2 L387.5,495.9 L388.7,495.6 L390.0,495.3 L391.2,495.0 L392.5,494.7 L393.7,494.4 L395.0,494.0 L396.2,493.7 L397.5,493.4 L398.7,493.1 L400.0,492.8 L401.2,492.5 L402.5,492.2 L403.7,491.9 L405.0,491.6 L406.3,491.4 L407.5,491.1 L408.8,490.8 L410.0,490.5 L411.2,490.2 L412.4,489.9 L413.6,489.6 L414.8,489.3 L416.0,489.0 L417.3,488.7 L418.6,488.3 L420.0,488.0 L422.2,487.5 L424.5,487.0 L427.0,486.4 L429.6,485.9 L432.2,485.3 L434.8,484.7 L437.5,484.1 L440.0,483.5 L442.5,482.9 L445.0,482.3 L447.5,481.6 L450.0,481.0 L452.5,480.3 L455.0,479.7 L457.5,479.1 L460.0,478.5 L462.5,478.0 L465.2,477.4 L467.8,476.9 L470.5,476.4 L473.0,475.9 L475.5,475.4 L477.9,475.0 L480.0,474.5 L481.4,474.1 L482.7,473.7 L484.0,473.3 L485.2,472.9 L486.4,472.5 L487.5,472.2 L488.5,472.0 L489.5,472.0 L490.1,472.1 L490.7,472.2 L491.3,472.4 L491.9,472.7 L492.4,472.9 L492.9,473.1 L493.5,473.4 L494.0,473.5 L494.5,473.6 L495.0,473.6 L495.5,473.7 L496.0,473.7 L496.5,473.7 L497.0,473.7 L497.5,473.7 L498.0,473.8 L498.5,473.9 L499.0,474.1 L499.5,474.3 L500.0,474.5 L500.5,474.7 L501.0,474.8 L501.5,474.9 L502.0,475.0 L502.5,475.0 L503.0,474.9 L503.5,474.8 L504.0,474.7 L504.5,474.6 L505.0,474.4 L505.5,474.2 L506.0,474.0 L506.6,473.7 L507.2,473.4 L507.8,473.0 L508.5,472.6 L509.1,472.2 L509.7,471.8 L510.4,471.4 L511.0,471.0 L511.7,470.5 L512.4,470.0 L513.2,469.5 L513.9,469.0 L514.6,468.5 L515.4,468.0 L516.2,467.6 L517.0,467.2 L517.9,466.8 L518.9,466.5 L519.8,466.2 L520.8,466.0 L521.9,465.7 L522.9,465.5 L523.9,465.3 L525.0,465.0 L526.2,464.7 L527.4,464.4 L528.7,464.0 L529.9,463.7 L531.2,463.4 L532.5,463.0 L533.7,462.8 L535.0,462.5 L536.2,462.3 L537.5,462.1 L538.7,461.9 L540.0,461.7 L541.2,461.6 L542.5,461.4 L543.7,461.3 L545.0,461.2 L546.3,461.1 L547.6,461.0 L548.9,460.9 L550.2,460.9 L551.5,460.9 L552.7,460.8 L553.9,460.8 L555.0,460.8 L555.7,460.8 L556.4,460.8 L557.0,460.9 L557.6,460.9 L558.1,461.0 L558.7,461.0 L559.3,461.0 L560.0,461.0 L560.8,460.9 L561.7,460.8 L562.5,460.7 L563.4,460.5 L564.3,460.3 L565.2,460.1 L566.1,459.9 L567.0,459.7 L568.0,459.4 L569.0,459.1 L570.0,458.8 L571.0,458.5 L572.0,458.1 L573.0,457.8 L574.0,457.5 L575.0,457.2 L576.0,457.0 L577.1,456.7 L578.2,456.5 L579.2,456.4 L580.3,456.2 L581.3,456.0 L582.2,455.7 L583.0,455.5 L583.5,455.3 L583.9,455.2 L584.2,455.0 L584.6,454.9 L585.0,454.7 L585.3,454.5 L585.6,454.3 L586.0,454.0 L586.5,453.6 L587.0,453.0 L587.5,452.5 L588.0,451.9 L588.5,451.2 L589.0,450.6 L589.5,449.9 L590.0,449.3 L590.6,448.6 L591.2,448.0 L591.8,447.3 L592.4,446.6 L593.0,446.0 L593.6,445.3 L594.3,444.6 L595.0,444.0 L595.8,443.3 L596.6,442.6 L597.5,441.9 L598.3,441.2 L599.2,440.5 L600.2,439.8 L601.1,439.1 L602.0,438.5 L603.0,437.9 L603.9,437.3 L604.9,436.7 L605.9,436.2 L606.9,435.6 L607.9,435.1 L608.9,434.6 L610.0,434.0 L611.2,433.4 L612.4,432.7 L613.7,432.1 L614.9,431.5 L616.2,430.8 L617.5,430.2 L618.7,429.6 L620.0,429.0 L621.2,428.4 L622.5,427.9 L623.7,427.3 L625.0,426.8 L626.2,426.3 L627.5,425.8 L628.7,425.3 L630.0,424.8 L631.2,424.3 L632.5,423.9 L633.8,423.5 L635.1,423.0 L636.3,422.6 L637.6,422.2 L638.8,421.9 L640.0,421.5 L641.1,421.2 L642.2,420.9 L643.3,420.6 L644.4,420.4 L645.4,420.1 L646.4,419.9 L647.3,419.7 L648.0,419.5 L648.3,419.4 L648.6,419.4 L648.8,419.3 L649.0,419.3 L649.3,419.3 L649.5,419.2 L649.7,419.1 L650.0,419.0 L650.5,418.7 L651.1,418.3 L651.7,417.9 L652.4,417.4 L653.0,416.9 L653.7,416.4 L654.3,415.9 L655.0,415.5 L655.6,415.2 L656.2,414.9 L656.9,414.6 L657.5,414.3 L658.1,414.1 L658.8,413.8 L659.4,413.7 L660.0,413.5 L660.5,413.4 L661.0,413.3 L661.5,413.2 L662.0,413.2 L662.5,413.2 L663.0,413.2 L663.5,413.2 L664.0,413.3 L664.6,413.4 L665.3,413.6 L665.9,413.8 L666.6,414.1 L667.2,414.4 L667.8,414.7 L668.4,415.1 L669.0,415.5 L669.6,416.1 L670.2,416.7 L670.7,417.5 L671.2,418.3 L671.6,419.1 L672.1,419.9 L672.6,420.7 L673.0,421.5 L673.4,422.2 L673.8,422.8 L674.2,423.5 L674.6,424.1 L674.9,424.8 L675.3,425.5 L675.7,426.2 L676.0,427.0 L676.4,428.1 L676.8,429.2 L677.2,430.4 L677.6,431.6 L678.0,432.9 L678.3,434.2 L678.7,435.6 L679.0,437.0 L679.4,439.1 L679.8,441.3 L680.2,443.6 L680.5,446.1 L680.8,448.5 L681.1,451.0 L681.3,453.3 L681.6,455.6 L681.8,457.5 L682.0,459.3 L682.1,461.1 L682.3,462.8 L682.4,464.6 L682.6,466.3 L682.7,468.1 L682.8,470.0 L682.9,472.1 L683.0,474.3 L683.1,476.5 L683.2,478.7 L683.3,481.0 L683.4,483.3 L683.5,485.6 L683.6,488.0 L683.8,491.2 L683.9,494.9 L684.1,498.9 L684.3,502.8 L684.5,506.4 L684.7,509.3 L685.0,511.3 L685.2,512.0 L685.5,510.9 L685.8,507.9 L686.1,503.6 L686.4,498.8 L686.7,494.0 L687.0,489.7 L687.3,486.7 L687.6,485.6 L687.8,486.0 L687.9,487.1 L688.1,488.7 L688.2,490.7 L688.4,493.0 L688.5,495.4 L688.7,497.8 L688.8,500.0 L689.0,503.5 L689.1,507.9 L689.3,512.6 L689.4,517.4 L689.5,521.8 L689.7,525.4 L689.8,527.9 L690.0,528.8 L690.2,527.9 L690.4,525.6 L690.7,522.1 L690.9,517.8 L691.1,513.1 L691.4,508.4 L691.6,503.9 L691.8,500.0 L692.0,496.9 L692.1,493.8 L692.3,490.7 L692.4,487.6 L692.6,484.7 L692.7,481.7 L692.8,478.8 L693.0,476.0 L693.1,473.6 L693.3,471.3 L693.5,469.0 L693.6,466.8 L693.8,464.6 L693.9,462.4 L694.1,460.2 L694.2,458.0 L694.3,455.8 L694.4,453.7 L694.5,451.5 L694.6,449.3 L694.7,447.2 L694.8,445.0 L694.9,442.8 L695.1,440.5 L695.3,437.9 L695.5,435.1 L695.8,432.3 L696.1,429.5 L696.4,426.7 L696.7,423.9 L697.0,421.3 L697.4,418.9 L697.7,417.2 L698.0,415.5 L698.3,413.9 L698.7,412.3 L699.0,410.8 L699.4,409.3 L699.8,407.9 L700.2,406.4 L700.6,405.0 L701.0,403.7 L701.4,402.4 L701.8,401.1 L702.2,399.8 L702.6,398.6 L703.1,397.3 L703.6,396.1 L704.1,395.0 L704.6,393.9 L705.2,392.8 L705.8,391.7 L706.4,390.6 L707.0,389.6 L707.6,388.6 L708.2,387.6 L708.7,386.7 L709.3,385.9 L709.8,385.0 L710.3,384.2 L710.9,383.4 L711.4,382.7 L712.0,382.0 L712.7,381.4 L713.3,380.9 L714.0,380.4 L714.8,380.0 L715.5,379.6 L716.3,379.3 L717.0,379.0 L717.7,378.9 L718.4,378.9 L719.0,379.0 L719.6,379.2 L720.2,379.5 L720.8,379.9 L721.4,380.3 L721.9,380.8 L722.5,381.4 L723.0,381.9 L723.6,382.7 L724.3,383.5 L724.8,384.5 L725.4,385.5 L725.9,386.6 L726.5,387.7 L727.0,388.8 L727.5,389.9 L728.1,391.3 L728.7,392.7 L729.2,394.1 L729.8,395.6 L730.3,397.2 L730.8,398.7 L731.4,400.3 L732.0,401.8 L732.7,403.5 L733.4,405.3 L734.1,407.1 L734.9,408.9 L735.6,410.6 L736.3,412.4 L737.0,414.0 L737.7,415.5 L738.1,416.5 L738.5,417.5 L738.9,418.4 L739.3,419.3 L739.7,420.2 L740.1,421.1 L740.6,421.9 L741.1,422.8 L741.8,423.8 L742.7,424.8 L743.7,425.7 L744.7,426.7 L745.6,427.6 L746.6,428.5 L747.4,429.4 L748.0,430.2 L748.3,430.6 L748.6,431.0 L748.8,431.4 L749.0,431.8 L749.2,432.2 L749.4,432.6 L749.5,433.0 L749.7,433.6 L750.0,435.2 L750.2,437.4 L750.4,439.9 L750.6,442.5 L750.7,445.0 L750.8,447.0 L750.9,448.5 L751.1,449.0 L751.3,448.5 L751.4,447.1 L751.5,445.2 L751.6,442.9 L751.7,440.4 L751.9,438.1 L752.3,436.2 L752.7,434.8 L753.0,434.3 L753.2,433.9 L753.5,433.6 L753.8,433.2 L754.2,433.0 L754.5,432.7 L754.9,432.6 L755.3,432.5 L756.0,432.6 L756.8,432.9 L757.8,433.4 L758.7,434.0 L759.7,434.6 L760.6,435.2 L761.5,435.5 L762.2,435.7 L762.6,435.7 L762.9,435.6 L763.3,435.4 L763.6,435.3 L763.9,435.1 L764.2,434.9 L764.6,434.7 L765.0,434.5 L765.8,434.3 L766.7,434.0 L767.7,433.8 L768.7,433.5 L769.8,433.3 L770.9,433.0 L772.0,432.8 L773.0,432.5 L774.0,432.2 L775.0,431.9 L775.9,431.7 L776.9,431.4 L777.9,431.1 L778.9,430.7 L779.9,430.3 L780.9,429.8 L782.2,429.1 L783.5,428.3 L784.8,427.4 L786.1,426.4 L787.5,425.4 L788.8,424.4 L790.2,423.4 L791.5,422.5 L792.8,421.6 L794.2,420.8 L795.5,420.0 L796.9,419.1 L798.2,418.3 L799.5,417.3 L800.8,416.3 L802.1,415.2 L803.5,413.7 L804.9,412.1 L806.2,410.3 L807.5,408.4 L808.8,406.5 L810.1,404.7 L811.4,402.9 L812.7,401.3 L813.9,400.0 L815.0,398.8 L816.2,397.7 L817.4,396.5 L818.5,395.4 L819.7,394.3 L820.9,393.2 L822.0,392.0 L823.2,390.7 L824.3,389.3 L825.5,387.9 L826.6,386.5 L827.8,385.1 L829.0,383.8 L830.1,382.5 L831.3,381.4 L832.3,380.5 L833.3,379.7 L834.3,379.0 L835.3,378.3 L836.3,377.6 L837.3,377.0 L838.3,376.4 L839.3,375.8 L840.1,375.4 L841.0,375.0 L841.9,374.6 L842.7,374.3 L843.5,374.0 L844.4,373.7 L845.1,373.3 L845.9,372.8 L846.6,372.3 L847.3,371.7 L848.0,371.1 L848.6,370.4 L849.2,369.7 L849.9,369.0 L850.5,368.3 L851.2,367.5 L852.1,366.4 L853.1,365.1 L854.1,363.8 L855.1,362.4 L856.1,361.0 L857.1,359.7 L858.2,358.5 L859.2,357.5 L860.0,356.8 L860.8,356.2 L861.6,355.6 L862.4,355.0 L863.2,354.5 L864.0,354.0 L864.8,353.6 L865.7,353.1 L866.6,352.6 L867.6,352.2 L868.5,351.9 L869.5,351.5 L870.5,351.1 L871.4,350.7 L872.4,350.3 L873.3,349.9 L874.2,349.4 L875.0,348.7 L875.9,348.1 L876.8,347.4 L877.6,346.8 L878.4,346.2 L879.2,345.9 L879.9,345.7 L880.4,345.8 L880.9,345.9 L881.4,346.2 L881.8,346.6 L882.3,346.9 L882.8,347.2 L883.2,347.4 L883.7,347.4 L884.3,347.2 L884.8,346.9 L885.4,346.4 L886.0,345.9 L886.6,345.3 L887.1,344.7 L887.8,344.1 L888.4,343.6 L889.2,343.0 L890.0,342.4 L890.8,341.7 L891.7,341.0 L892.5,340.4 L893.4,340.0 L894.2,339.6 L895.0,339.5 L895.6,339.6 L896.3,339.7 L896.9,340.0 L897.5,340.4 L898.1,340.9 L898.7,341.3 L899.2,341.8 L899.8,342.3 L900.4,342.9 L901.1,343.5 L901.7,344.1 L902.3,344.8 L902.9,345.5 L903.5,346.3 L904.0,347.1 L904.5,348.0 L905.1,349.3 L905.7,350.7 L906.2,352.2 L906.6,353.8 L907.1,355.4 L907.5,357.1 L907.9,358.7 L908.3,360.3 L908.7,361.9 L909.1,363.5 L909.5,365.1 L909.8,366.7 L910.1,368.4 L910.5,370.0 L910.8,371.8 L911.1,373.6 L911.5,376.0 L911.9,378.5 L912.3,381.1 L912.6,383.8 L913.0,386.5 L913.4,389.2 L913.7,391.8 L914.0,394.4 L914.3,396.8 L914.5,399.1 L914.8,401.5 L915.0,403.8 L915.2,406.1 L915.5,408.5 L915.7,410.9 L915.9,413.3 L916.1,416.1 L916.4,418.9 L916.6,421.7 L916.9,424.6 L917.1,427.5 L917.3,430.4 L917.6,433.3 L917.8,436.1 L918.0,438.8 L918.3,441.5 L918.5,444.2 L918.7,446.9 L918.9,449.6 L919.2,452.1 L919.4,454.6 L919.7,456.9 L919.9,458.6 L920.1,460.2 L920.3,461.7 L920.5,463.2 L920.8,464.7 L921.0,466.2 L921.3,467.6 L921.6,469.0 L921.9,470.3 L922.3,471.5 L922.6,472.7 L923.0,473.9 L923.4,475.1 L923.8,476.3 L924.2,477.5 L924.5,478.8 L924.9,480.3 L925.2,481.9 L925.5,483.4 L925.8,485.0 L926.1,486.7 L926.4,488.3 L926.7,489.9 L927.0,491.5 L927.3,493.1 L927.5,494.9 L927.8,496.7 L928.0,498.5 L928.3,500.1 L928.6,501.7 L929.0,503.0 L929.5,504.1 L929.8,504.6 L930.2,505.0 L930.6,505.3 L931.1,505.5 L931.5,505.8 L931.9,506.0 L932.3,506.3 L932.7,506.6 L933.0,506.9 L933.4,507.2 L933.7,507.4 L934.0,507.7 L934.3,508.0 L934.6,508.3 L934.9,508.7 L935.2,509.1 L935.6,509.8 L935.9,510.6 L936.3,511.5 L936.6,512.5 L936.9,513.5 L937.1,514.5 L937.4,515.6 L937.7,516.7 L938.1,518.2 L938.4,519.9 L938.7,521.6 L939.1,523.4 L939.4,525.2 L939.7,527.0 L940.0,528.8 L940.3,530.6 L940.6,532.3 L940.9,534.1 L941.2,535.9 L941.5,537.6 L941.8,539.4 L942.2,541.1 L942.5,542.8 L942.8,544.5 L943.1,546.0 L943.4,547.6 L943.6,549.2 L943.9,550.7 L944.2,552.2 L944.5,553.6 L944.9,554.8 L945.3,555.9 L945.6,556.5 L945.8,557.1 L946.1,557.6 L946.4,558.1 L946.7,558.6 L947.0,559.0 L947.4,559.2 L947.8,559.4 L948.3,559.4 L948.9,559.2 L949.5,558.9 L950.2,558.5 L950.9,558.0 L951.6,557.6 L952.2,557.2 L952.9,556.9 L953.5,556.7 L954.2,556.7 L954.8,556.6 L955.5,556.6 L956.1,556.6 L956.7,556.5 L957.3,556.3 L957.9,556.1 L958.4,555.7 L958.9,555.2 L959.4,554.5 L959.8,553.9 L960.3,553.2 L960.7,552.7 L961.2,552.3 L961.7,552.1 L962.2,552.2 L962.8,552.5 L963.3,553.0 L963.9,553.5 L964.5,554.1 L965.1,554.5 L965.6,554.8 L966.1,554.8 L966.8,554.4 L967.4,553.6 L967.9,552.6 L968.5,551.3 L969.0,550.0 L969.5,548.5 L970.1,547.1 L970.6,545.8 L971.2,544.3 L971.9,542.7 L972.5,541.0 L973.1,539.3 L973.8,537.6 L974.4,536.0 L975.0,534.4 L975.6,533.1 L976.0,532.2 L976.4,531.3 L976.8,530.4 L977.2,529.5 L977.6,528.8 L978.0,528.2 L978.4,527.7 L978.8,527.5 L979.1,527.5 L979.4,527.6 L979.8,527.7 L980.1,528.0 L980.4,528.3 L980.7,528.6 L981.0,528.9 L981.3,529.3 L981.7,530.0 L982.1,530.8 L982.4,531.7 L982.7,532.8 L983.0,533.8 L983.2,534.9 L983.5,535.9 L983.8,536.9 L984.1,537.8 L984.3,538.8 L984.5,539.8 L984.8,540.8 L985.0,541.7 L985.2,542.6 L985.5,543.3 L985.8,544.0 L986.0,544.4 L986.2,544.7 L986.4,545.0 L986.6,545.3 L986.8,545.6 L987.0,545.8 L987.2,545.9 L987.4,546.0 L987.6,545.9 L987.8,545.7 L988.1,545.3 L988.3,545.0 L988.5,544.6 L988.8,544.2 L989.0,544.0 L989.2,543.9 L989.4,544.0 L989.5,544.1 L989.7,544.3 L989.9,544.6 L990.0,544.9 L990.2,545.1 L990.3,545.2 L990.5,545.3 L990.7,545.2 L990.9,545.0 L991.1,544.7 L991.3,544.4 L991.5,544.0 L991.7,543.7 L991.9,543.5 L992.1,543.4 L992.3,543.4 L992.5,543.5 L992.7,543.7 L992.9,543.9 L993.2,544.1 L993.4,544.4 L993.5,544.6 L993.7,544.8 L993.8,545.0 L993.9,545.2 L994.0,545.3 L994.1,545.5 L994.2,545.7 L994.2,545.9 L994.3,546.1 L994.4,546.3" stroke="#ff0000" stroke-width="2.4"/>
<path d="M71.5,648.0 L73.0,648.0 L74.5,648.0 L76.0,648.0 L77.6,648.1 L79.1,648.1 L80.5,648.1 L81.7,648.0 L82.8,648.0 L83.3,648.0 L83.7,647.9 L84.1,647.9 L84.4,647.8 L84.8,647.8 L85.1,647.1 L85.5,647.1 L86.0,647.1 L86.8,647.1 L87.7,647.3 L88.7,647.6 L89.7,647.8 L90.8,647.6 L91.9,647.3 L92.9,647.0 L94.0,646.7 L95.2,646.8 L96.4,646.9 L97.6,646.8 L98.9,646.5 L100.1,646.1 L101.3,646.3 L102.5,646.7 L103.6,646.3 L104.5,646.1 L105.3,646.1 L106.1,646.4 L106.8,646.7 L107.6,646.9 L108.4,647.2 L109.2,647.3 L110.0,647.4 L111.0,647.4 L111.9,647.4 L112.9,647.4 L113.9,647.4 L115.0,647.5 L116.0,647.5 L117.0,647.6 L118.0,647.6 L119.0,647.2 L120.0,646.7 L121.0,646.8 L122.0,647.0 L123.0,647.1 L124.0,647.2 L125.0,647.0 L126.0,646.7 L127.0,646.4 L128.0,646.1 L129.1,645.9 L130.1,646.4 L131.1,646.9 L132.1,646.4 L133.1,645.9 L134.0,645.6 L134.7,645.5 L135.5,645.4 L136.2,645.5 L136.9,645.6 L137.6,645.8 L138.2,645.7 L138.9,645.5 L139.6,645.4 L140.3,645.3 L141.0,645.4 L141.6,645.5 L142.3,645.6 L143.0,645.9 L143.7,646.2 L144.3,646.5 L145.0,646.3 L145.6,646.1 L146.3,645.9 L146.9,646.0 L147.5,646.3 L148.1,646.7 L148.7,647.0 L149.4,647.0 L150.0,646.8 L150.7,646.7 L151.4,646.4 L152.1,646.2 L152.9,645.9 L153.6,645.8 L154.3,646.0 L155.1,646.2 L155.8,646.3 L156.6,646.4 L157.4,646.6 L158.2,646.4 L159.0,646.1 L159.8,645.8 L160.6,646.1 L161.4,646.4 L162.1,646.7 L162.7,646.6 L163.3,646.7 L163.8,646.7 L164.4,646.9 L164.9,647.2 L165.5,647.5 L166.0,647.7 L166.6,647.9 L167.2,648.0 L167.8,648.0 L168.3,647.9 L168.9,647.8 L169.5,647.5 L170.1,647.4 L170.6,647.2 L171.1,647.3 L171.5,647.6 L171.8,647.8 L172.1,648.1 L172.5,648.4 L172.8,648.7 L173.1,649.0 L173.4,649.1 L173.8,649.2 L174.3,649.2 L174.8,649.3 L175.4,649.3 L176.0,649.4 L176.6,649.5 L177.2,649.6 L177.8,649.7 L178.3,649.8 L178.8,650.0 L179.2,650.2 L179.7,650.3 L180.1,650.4 L180.5,650.4 L181.0,650.4 L181.4,650.5 L181.9,650.5 L182.4,650.8 L183.0,651.0 L183.5,651.3 L184.0,651.5 L184.6,651.7 L185.2,651.9 L185.8,652.0 L186.4,652.0 L187.3,651.7 L188.3,651.2 L189.3,651.5 L190.3,651.6 L191.4,651.6 L192.4,651.6 L193.5,651.6 L194.5,651.6 L195.5,651.7 L196.5,651.8 L197.5,651.9 L198.5,652.1 L199.6,652.2 L200.6,652.4 L201.6,652.5 L202.7,652.6 L203.9,652.7 L205.1,652.7 L206.3,652.8 L207.6,652.8 L208.8,652.8 L210.1,652.8 L211.3,652.9 L212.6,652.9 L213.9,653.0 L215.3,653.1 L216.7,653.2 L218.1,653.3 L219.5,653.4 L220.9,653.5 L222.2,653.5 L223.4,653.5 L224.3,653.5 L225.2,653.4 L226.0,653.4 L226.9,653.3 L227.7,653.2 L228.5,653.1 L229.2,653.0 L230.0,652.9 L230.6,652.8 L231.2,652.7 L231.8,652.6 L232.4,652.4 L232.9,652.3 L233.6,652.2 L234.2,652.0 L235.0,651.9 L236.6,651.7 L238.5,651.4 L240.5,651.2 L242.7,650.9 L245.0,650.7 L247.4,650.4 L249.7,650.1 L252.0,649.9 L254.6,649.6 L257.1,649.3 L259.7,649.1 L262.3,648.8 L265.1,648.5 L267.9,648.3 L270.9,648.0 L274.0,647.7 L278.8,647.3 L283.9,646.9 L289.4,646.4 L295.1,646.0 L300.8,645.6 L306.6,645.2 L312.4,644.8 L318.0,644.4 L323.5,644.1 L329.0,643.8 L334.5,643.5 L340.0,643.2 L345.5,643.0 L351.0,642.7 L356.5,642.5 L362.0,642.2 L367.5,641.9 L373.1,641.6 L378.7,641.3 L384.4,641.0 L389.9,640.7 L395.4,640.5 L400.8,640.2 L406.0,640.0 L410.4,639.8 L414.7,639.7 L418.9,639.6 L423.0,639.5 L427.1,639.4 L431.3,639.3 L435.6,639.2 L440.0,639.0 L445.2,638.8 L450.6,638.6 L456.1,638.3 L461.6,638.0 L467.3,637.8 L472.9,637.5 L478.5,637.2 L484.0,637.0 L489.5,636.8 L495.0,636.5 L500.5,636.3 L506.0,636.1 L511.5,635.9 L517.0,635.7 L522.5,635.4 L528.0,635.2 L533.7,634.9 L539.6,634.7 L545.6,634.4 L551.6,634.2 L557.4,633.9 L562.8,633.6 L567.7,633.3 L572.0,633.0 L574.0,632.8 L575.9,632.6 L577.6,632.4 L579.3,632.3 L580.8,632.1 L582.3,631.9 L583.7,631.7 L585.2,631.5 L586.4,631.4 L587.4,631.2 L588.5,631.1 L589.5,630.9 L590.5,630.8 L591.6,630.7 L592.7,630.5 L594.0,630.4 L596.3,630.2 L598.8,629.9 L601.5,629.7 L604.3,629.5 L607.2,629.2 L610.2,629.0 L613.1,628.8 L616.0,628.6 L619.0,628.4 L622.1,628.2 L625.2,628.1 L628.3,627.9 L631.4,627.8 L634.4,627.6 L637.3,627.5 L640.0,627.4 L642.1,627.3 L644.1,627.3 L646.1,627.2 L648.0,627.2 L649.8,627.1 L651.6,627.1 L653.3,627.1 L655.0,627.0 L656.2,626.9 L657.4,626.8 L658.5,626.7 L659.6,626.7 L660.6,626.6 L661.7,626.5 L662.7,626.5 L663.8,626.5 L664.8,626.6 L665.8,626.6 L666.7,626.8 L667.7,626.9 L668.6,627.1 L669.6,627.2 L670.5,627.4 L671.5,627.6 L672.6,627.8 L673.8,628.0 L675.0,628.3 L676.2,628.5 L677.3,628.8 L678.4,629.1 L679.4,629.5 L680.3,629.8 L680.8,630.0 L681.3,630.3 L681.7,630.6 L682.2,630.8 L682.6,631.1 L682.9,631.4 L683.3,631.7 L683.6,632.0 L683.9,632.3 L684.1,632.6 L684.3,633.0 L684.5,633.3 L684.7,633.6 L684.9,633.9 L685.1,634.1 L685.3,634.2 L685.5,634.2 L685.8,634.0 L686.1,633.8 L686.4,633.6 L686.6,633.3 L686.9,633.1 L687.2,632.9 L687.5,632.9 L687.8,633.0 L688.2,633.3 L688.5,633.7 L688.9,634.2 L689.2,634.6 L689.6,635.0 L689.9,635.2 L690.2,635.3 L690.6,635.1 L690.9,634.7 L691.2,634.1 L691.6,633.3 L691.9,632.6 L692.2,631.8 L692.6,631.0 L693.0,630.4 L693.4,629.9 L693.8,629.3 L694.3,628.8 L694.7,628.3 L695.2,627.8 L695.7,627.4 L696.2,626.9 L696.8,626.5 L697.5,626.1 L698.3,625.7 L699.0,625.3 L699.9,625.0 L700.7,624.6 L701.6,624.4 L702.5,624.1 L703.4,623.8 L704.4,623.5 L705.5,623.2 L706.6,623.0 L707.8,622.8 L708.9,622.6 L710.0,622.4 L711.1,622.2 L712.2,622.1 L713.1,622.0 L713.9,621.9 L714.7,621.8 L715.6,621.7 L716.4,621.6 L717.2,621.6 L718.0,621.6 L718.8,621.6 L719.6,621.7 L720.5,621.8 L721.3,621.9 L722.1,622.1 L722.9,622.3 L723.8,622.5 L724.6,622.8 L725.4,623.0 L726.2,623.3 L727.0,623.5 L727.8,623.8 L728.6,624.1 L729.5,624.5 L730.3,624.8 L731.1,625.1 L732.0,625.4 L733.0,625.8 L734.1,626.1 L735.2,626.5 L736.3,626.9 L737.5,627.2 L738.6,627.6 L739.7,627.9 L740.8,628.2 L741.8,628.4 L742.9,628.6 L743.9,628.8 L745.0,629.0 L746.0,629.1 L746.9,629.3 L747.8,629.5 L748.5,629.8 L748.9,630.0 L749.2,630.3 L749.5,630.5 L749.8,630.8 L750.1,631.1 L750.3,631.3 L750.6,631.4 L750.9,631.5 L751.3,631.4 L751.6,631.2 L752.0,630.9 L752.3,630.5 L752.7,630.1 L753.1,629.8 L753.5,629.5 L754.0,629.3 L754.6,629.2 L755.3,629.2 L756.0,629.3 L756.8,629.5 L757.5,629.6 L758.3,629.8 L759.2,629.9 L760.0,630.0 L761.1,630.0 L762.2,630.0 L763.4,630.0 L764.7,629.9 L765.9,629.8 L767.1,629.8 L768.4,629.7 L769.6,629.6 L770.8,629.5 L772.0,629.5 L773.2,629.4 L774.4,629.3 L775.7,629.2 L776.9,629.1 L778.0,629.0 L779.2,628.8 L780.3,628.6 L781.3,628.4 L782.3,628.2 L783.4,628.0 L784.4,627.7 L785.4,627.4 L786.5,627.1 L787.6,626.8 L789.0,626.3 L790.4,625.8 L791.9,625.3 L793.4,624.7 L794.9,624.1 L796.4,623.5 L798.0,622.9 L799.6,622.4 L801.5,621.8 L803.5,621.3 L805.5,620.7 L807.5,620.1 L809.6,619.6 L811.6,619.2 L813.5,618.7 L815.2,618.4 L816.4,618.2 L817.5,618.0 L818.6,617.9 L819.6,617.8 L820.6,617.7 L821.6,617.6 L822.6,617.5 L823.6,617.4 L824.5,617.3 L825.5,617.2 L826.4,617.1 L827.3,616.9 L828.2,616.9 L829.1,616.8 L829.9,616.8 L830.8,616.8 L831.6,616.9 L832.3,617.0 L833.0,617.1 L833.8,617.3 L834.5,617.5 L835.2,617.7 L836.0,617.9 L836.8,618.2 L837.9,618.6 L839.1,619.1 L840.4,619.7 L841.7,620.3 L842.9,620.8 L844.2,621.3 L845.3,621.7 L846.4,622.0 L847.1,622.1 L847.6,622.1 L848.2,622.1 L848.7,622.1 L849.3,622.0 L849.9,621.9 L850.5,621.9 L851.2,621.8 L852.5,621.7 L854.1,621.6 L855.7,621.5 L857.5,621.4 L859.3,621.3 L861.0,621.2 L862.8,621.1 L864.4,621.0 L865.8,620.9 L867.1,620.9 L868.4,620.8 L869.7,620.8 L871.0,620.7 L872.3,620.7 L873.6,620.7 L875.0,620.6 L876.5,620.5 L878.1,620.5 L879.7,620.5 L881.3,620.4 L882.9,620.4 L884.5,620.3 L886.0,620.2 L887.5,620.0 L888.8,619.8 L890.1,619.6 L891.3,619.3 L892.6,619.0 L893.8,618.7 L895.0,618.4 L896.3,618.1 L897.5,617.9 L898.8,617.7 L900.1,617.5 L901.4,617.4 L902.7,617.2 L904.0,617.1 L905.2,617.0 L906.4,616.9 L907.5,616.9 L908.2,616.9 L908.9,616.9 L909.5,617.0 L910.1,617.0 L910.6,617.1 L911.2,617.2 L911.9,617.3 L912.5,617.5 L913.4,617.8 L914.3,618.2 L915.2,618.6 L916.1,619.1 L917.1,619.7 L918.1,620.2 L919.0,620.8 L920.0,621.3 L921.1,621.9 L922.1,622.6 L923.2,623.3 L924.3,624.0 L925.4,624.7 L926.5,625.3 L927.7,625.9 L928.8,626.3 L929.9,626.6 L931.0,626.7 L932.0,626.8 L933.2,626.8 L934.3,626.8 L935.4,626.9 L936.4,627.0 L937.5,627.3 L938.6,627.8 L939.7,628.4 L940.8,629.1 L941.9,629.8 L942.9,630.6 L944.0,631.3 L945.1,632.0 L946.3,632.5 L947.5,633.0 L948.7,633.4 L949.9,633.8 L951.2,634.2 L952.4,634.5 L953.7,634.7 L955.0,634.9 L956.3,635.0 L957.7,635.0 L959.2,635.0 L960.7,634.8 L962.1,634.6 L963.6,634.4 L965.0,634.1 L966.3,633.8 L967.5,633.5 L968.2,633.3 L968.9,633.1 L969.6,632.8 L970.2,632.5 L970.8,632.3 L971.3,632.0 L971.9,631.7 L972.5,631.3 L973.1,630.8 L973.8,630.3 L974.4,629.7 L975.0,629.1 L975.7,628.5 L976.3,628.0 L976.9,627.6 L977.5,627.3 L978.0,627.2 L978.5,627.2 L979.0,627.3 L979.4,627.5 L979.9,627.6 L980.4,627.7 L980.9,627.8 L981.3,627.9 L981.7,627.9 L982.0,627.9 L982.4,627.9 L982.8,627.9 L983.1,627.9 L983.4,627.9 L983.7,627.8 L984.0,627.7 L984.2,627.6 L984.4,627.5 L984.5,627.3 L984.6,627.2 L984.8,627.1 L984.9,626.9 L985.1,626.8 L985.3,626.7 L985.6,626.6 L985.9,626.6 L986.3,626.5 L986.6,626.5 L987.0,626.5 L987.4,626.5 L987.7,626.5 L988.1,626.5 L988.5,626.5 L988.8,626.4 L989.2,626.4 L989.6,626.3 L990.0,626.3 L990.3,626.3 L990.7,626.3 L991.1,626.3 L991.5,626.3 L991.9,626.4 L992.3,626.5 L992.6,626.6 L993.0,626.7 L993.4,626.8 L993.8,626.9 L994.2,627.0" stroke="#000" stroke-width="2.2"/>
</g>
<g font-size="27.9">
<text transform="translate(71.5,716.3) scale(0.94,1)" text-anchor="middle">4000</text>
<text transform="translate(201.5,716.3) scale(0.94,1)" text-anchor="middle">3500</text>
<text transform="translate(331.5,716.3) scale(0.94,1)" text-anchor="middle">3000</text>
<text transform="translate(461.5,716.3) scale(0.94,1)" text-anchor="middle">2500</text>
<text transform="translate(591.5,716.3) scale(0.94,1)" text-anchor="middle">2000</text>
<text transform="translate(721.5,716.3) scale(0.94,1)" text-anchor="middle">1500</text>
<text transform="translate(851.5,716.3) scale(0.94,1)" text-anchor="middle">1000</text>
<text transform="translate(981.5,716.3) scale(0.94,1)" text-anchor="middle">500</text>
</g>
<text transform="translate(83.7,154) scale(0.955,1)" font-size="33">AgNPs-Fe<tspan font-size="19.5" dy="13.2">2</tspan><tspan dy="-13.2">O</tspan><tspan font-size="19.5" dy="13.2">3</tspan></text>
<text transform="translate(90.5,484) scale(0.955,1)" font-size="33">TiNPs-Fe<tspan font-size="19.5" dy="12.6">2</tspan><tspan dy="-12.6">O</tspan><tspan font-size="19.5" dy="12.6">3</tspan></text>
<text transform="translate(97.5,610.9) scale(0.955,1)" font-size="33">Fe<tspan font-size="19.5" dy="12.9">2</tspan><tspan dy="-12.9">O</tspan><tspan font-size="19.5" dy="12.9">3</tspan></text>
<text transform="translate(406.3,785.5) scale(0.96,1)" font-size="33">Wavenumber (cm<tspan dy="-18.5" dx="-1">-1</tspan><tspan dy="18.5" dx="0.8">)</tspan></text>
<text transform="translate(23,488.6) rotate(-90)" font-size="32.8" xml:space="preserve">Transmittance  (%)</text>
</svg>
</body></html>
